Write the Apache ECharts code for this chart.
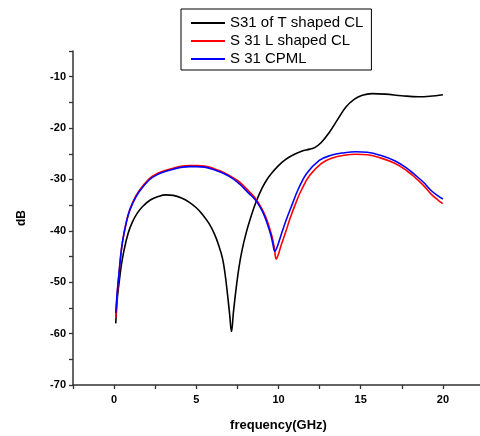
<!DOCTYPE html>
<html><head><meta charset="utf-8">
<script src="https://cdn.jsdelivr.net/npm/echarts@6/dist/echarts.min.js"></script>
<style>html,body{margin:0;padding:0;background:#fff}#c{width:480px;height:436px}</style>
</head><body><div id="c"></div>
<script>
var seriesNames = ['S31 of T shaped CL', 'S 31 L shaped CL', 'S 31 CPML'];
var xTicks = [0, 5, 10, 15, 20];
var yTicks = [-70, -60, -50, -40, -30, -20, -10];
var tShaped = [[0.1,-58],[0.2,-53],[0.3,-50.2],[0.45,-46.5],[0.61,-43.7],[0.85,-40.5],[1.11,-38.3],[1.4,-36.6],[1.72,-35.3],[2.2,-34.0],[2.7,-33.3],[3.15,-33.0],[3.6,-33.1],[4.1,-33.6],[4.56,-34.4],[5.0,-35.5],[5.4,-36.9],[5.78,-38.6],[6.1,-40.6],[6.35,-42.7],[6.59,-45.3],[6.75,-48.4],[6.9,-52.4],[7.03,-56.3],[7.14,-59.6],[7.26,-55.8],[7.42,-51.3],[7.6,-47],[7.8,-43.5],[8.05,-40.2],[8.3,-37.5],[8.62,-34.5],[9.0,-31.7],[9.3,-30.0],[9.63,-28.6],[10.0,-27.3],[10.4,-26.2],[10.85,-25.3],[11.4,-24.5],[11.9,-24.1],[12.2,-23.8],[12.6,-22.8],[13.1,-20.8],[13.6,-18.3],[14.1,-15.9],[14.6,-14.4],[15.1,-13.6],[15.7,-13.3],[16.5,-13.4],[17.5,-13.7],[18.5,-13.9],[19.2,-13.8],[20,-13.5]];
var lShaped = [[0.1,-57],[0.2,-52],[0.3,-48.3],[0.45,-43.5],[0.61,-40.3],[0.85,-36.9],[1.11,-34.6],[1.5,-32.3],[2.13,-29.9],[2.6,-28.9],[3.15,-28.2],[3.6,-27.8],[4.16,-27.4],[4.6,-27.3],[5.0,-27.3],[5.5,-27.4],[6.0,-27.8],[6.5,-28.4],[7.0,-29.2],[7.5,-30.2],[7.8,-31.0],[8.2,-32.3],[8.6,-33.7],[8.9,-35.2],[9.2,-37.1],[9.42,-39.1],[9.62,-41.3],[9.75,-43.4],[9.86,-45.5],[10.0,-44.5],[10.15,-42.9],[10.45,-40.1],[10.7,-37.6],[11.05,-34.6],[11.4,-32.0],[11.9,-29.2],[12.6,-26.9],[13.3,-25.8],[14.0,-25.3],[14.7,-25.1],[15.4,-25.2],[16.2,-25.8],[17.1,-26.9],[17.8,-28.3],[18.3,-29.6],[18.8,-31.1],[19.3,-32.9],[19.7,-34.0],[20,-34.7]];
var cpml = [[0.1,-56],[0.2,-51.5],[0.3,-48.2],[0.45,-43.5],[0.61,-40.4],[0.85,-37.0],[1.11,-34.8],[1.5,-32.5],[2.13,-30.1],[2.6,-29.1],[3.15,-28.4],[3.6,-28.0],[4.16,-27.6],[4.6,-27.5],[5.0,-27.5],[5.5,-27.6],[6.0,-28.0],[6.5,-28.6],[7.0,-29.4],[7.5,-30.5],[7.8,-31.4],[8.2,-32.7],[8.6,-34.0],[8.9,-35.5],[9.13,-37.0],[9.35,-38.9],[9.54,-40.9],[9.66,-42.6],[9.78,-44.0],[9.9,-43.3],[10.05,-41.9],[10.24,-40.0],[10.5,-37.6],[10.85,-34.7],[11.2,-31.9],[11.7,-28.9],[12.48,-26.3],[13.2,-25.3],[14.0,-24.8],[14.7,-24.6],[15.4,-24.7],[16.2,-25.3],[17.1,-26.4],[17.8,-27.8],[18.3,-29.1],[18.8,-30.5],[19.3,-32.2],[19.7,-33.2],[20,-33.8]];

var chart = echarts.init(document.getElementById('c'));
var axisCol = '#333';
var font = 'Liberation Sans, Arial, sans-serif';
function mkSeries(name, data, color) {
  return {name: name, type: 'line', data: data, smooth: 0.4, symbol: 'none',
    lineStyle: {color: color, width: 1.6}, itemStyle: {color: color}, z: 3};
}
chart.setOption({
  animation: false,
  grid: {left: 73, top: 51, width: 411, height: 334, outerBoundsMode: 'none', containLabel: false},
  legend: {
    orient: 'vertical', left: 181, top: 9, icon: 'rect', itemWidth: 34, itemHeight: 2,
    itemGap: 0, padding: [5, 8, 2, 10], borderColor: '#000', borderWidth: 1,
    backgroundColor: '#fff',
    textStyle: {fontFamily: font, fontSize: 15, color: '#000', lineHeight: 18}, data: seriesNames
  },
  xAxis: {
    type: 'value', min: -2.5, max: 22.5, interval: 2.5,
    name: 'frequency(GHz)', nameLocation: 'middle', nameGap: 34,
    nameTextStyle: {fontFamily: font, fontSize: 13, fontWeight: 'bold', color: '#000'},
    axisLine: {onZero: false, lineStyle: {color: axisCol, width: 1.5}},
    axisTick: {show: true, length: 4, lineStyle: {color: axisCol, width: 1.3}},
    axisLabel: {fontFamily: font, fontSize: 11, fontWeight: 'bold', color: '#000', margin: 9,
      formatter: function (v) { return xTicks.indexOf(v) >= 0 ? String(v) : ''; }},
    splitLine: {show: false}
  },
  yAxis: {
    type: 'value', min: -70, max: -5, interval: 5,
    name: 'dB', nameLocation: 'middle', nameGap: 45, nameRotate: 90,
    nameTextStyle: {fontFamily: font, fontSize: 12, fontWeight: 'bold', color: '#000'},
    axisLine: {show: true, onZero: false, lineStyle: {color: axisCol, width: 1.5}},
    axisTick: {show: true, length: 4, lineStyle: {color: axisCol, width: 1.3}},
    axisLabel: {fontFamily: font, fontSize: 11, fontWeight: 'bold', color: '#000', margin: 7,
      formatter: function (v) { return yTicks.indexOf(v) >= 0 ? String(v) : ''; }},
    splitLine: {show: false}
  },
  series: [
    mkSeries(seriesNames[0], tShaped, '#000'),
    mkSeries(seriesNames[1], lShaped, '#ff0000'),
    mkSeries(seriesNames[2], cpml, '#0000ff')
  ]
});
</script></body></html>
